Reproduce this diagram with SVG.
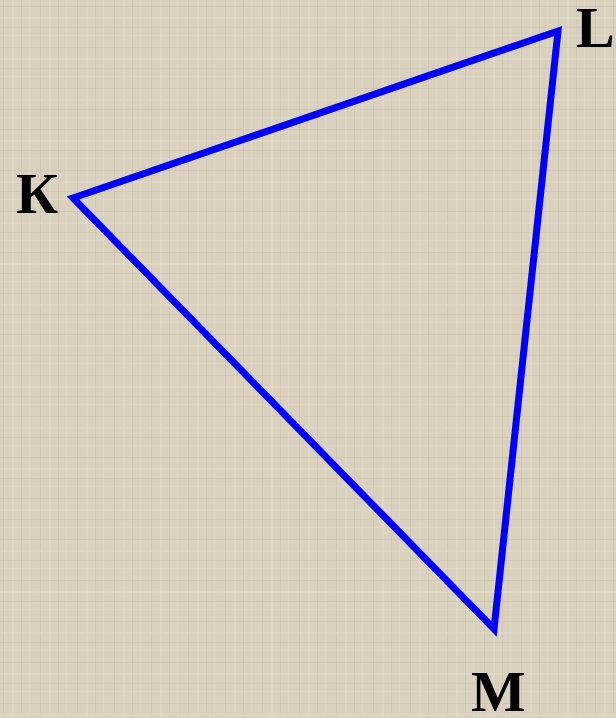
<svg xmlns="http://www.w3.org/2000/svg" width="616" height="718" viewBox="0 0 616 718">
<defs>
<pattern id="tex" width="37" height="41" patternUnits="userSpaceOnUse">
<rect width="37" height="41" fill="#d9d0bd"/>
<rect x="3" y="0" width="1" height="41" fill="#c8bea8" opacity="0.45"/>
<rect x="12" y="0" width="2" height="41" fill="#e5dece" opacity="0.5"/>
<rect x="21" y="0" width="1" height="41" fill="#c4b9a2" opacity="0.35"/>
<rect x="29" y="0" width="1" height="41" fill="#e3dccb" opacity="0.4"/>
<rect x="0" y="6" width="37" height="1" fill="#c6bba4" opacity="0.35"/>
<rect x="0" y="17" width="37" height="2" fill="#e4ddcc" opacity="0.45"/>
<rect x="0" y="27" width="37" height="1" fill="#cabfa9" opacity="0.4"/>
<rect x="0" y="35" width="37" height="1" fill="#e2dbc9" opacity="0.35"/>
</pattern>
<style>
.lbl{font-family:"Liberation Serif","Times New Roman",serif;font-weight:bold;font-size:58px;fill:#000}
.edge{fill:none;stroke:#0000ff;stroke-width:7;stroke-linejoin:miter;stroke-miterlimit:20}
</style>
</defs>
<rect width="616" height="718" fill="url(#tex)"/>
<g id="connectors">
<polygon class="edge" points="73,198 558,31 494,629"/>
</g>
<g id="node-K"><text class="lbl" x="16" y="213">К</text></g>
<g id="node-L"><text class="lbl" x="576" y="47">L</text></g>
<g id="node-M"><text class="lbl" x="471" y="711">M</text></g>
</svg>
